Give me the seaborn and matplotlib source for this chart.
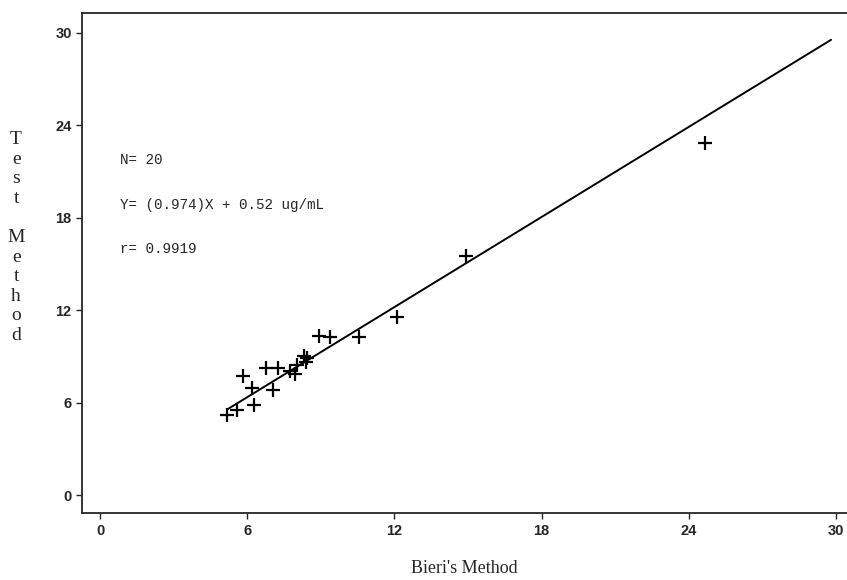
import numpy as np
import pandas as pd
import matplotlib
matplotlib.use("Agg")
import matplotlib.pyplot as plt
import seaborn as sns

# valores
bieri = [5.17, 5.58, 6.26, 7.07, 6.19, 5.82, 6.76, 7.24, 7.76, 7.96,
         8.03, 8.30, 8.41, 8.45, 8.91, 9.39, 10.54, 12.11, 14.90, 24.67]
test = [5.19, 5.56, 5.84, 6.82, 6.99, 7.73, 8.27, 8.27, 8.05, 7.86,
        8.44, 9.03, 8.66, 8.90, 10.32, 10.24, 10.28, 11.54, 15.52, 22.88]
pendiente = 0.974
intercepto = 0.52
ticks = [0, 6, 12, 18, 24, 30]
anotaciones = ["N= 20", "Y= (0.974)X + 0.52 ug/mL", "r= 0.9919"]

df = pd.DataFrame({"bieri": bieri, "test": test})
x_linea = np.array([min(bieri), 29.8])
df_linea = pd.DataFrame({"x": x_linea, "y": pendiente * x_linea + intercepto})

sns.set_style("ticks")
fig = plt.figure(figsize=(8.47, 5.8), dpi=100)
ax = fig.add_axes([0.097, 0.115, 0.903, 0.863])

sns.scatterplot(data=df, x="bieri", y="test", marker="+", s=110,
                color="black", linewidth=1.6, ax=ax, zorder=3)
sns.lineplot(data=df_linea, x="x", y="y", color="black", linewidth=1.4, ax=ax)

ax.set_xlim(-0.73, 30.45)
ax.set_ylim(-1.17, 31.3)
ax.set_xticks(ticks)
ax.set_yticks(ticks)
ax.tick_params(direction="out", length=4, width=1, labelsize=10.5)
for lab in ax.get_xticklabels() + ax.get_yticklabels():
    lab.set_fontfamily("Liberation Sans")
    lab.set_fontweight("bold")
ax.spines["right"].set_visible(False)
for s in ["left", "bottom", "top"]:
    ax.spines[s].set_linewidth(1.3)

ax.set_xlabel("Bieri's Method", family="Liberation Serif", fontsize=13, labelpad=16)
ax.set_ylabel("")
fig.text(0.019, 0.774, "\n".join("Test Method").replace(" ", ""),
         family="Liberation Serif", fontsize=14, va="top", ha="center",
         linespacing=1.2)

for i, t in enumerate(anotaciones):
    ax.text(0.8, 21.75 - i * 2.9, t, family="Liberation Mono", fontsize=10.3,
            va="center", ha="left")

fig.savefig("out.png", dpi=100)
